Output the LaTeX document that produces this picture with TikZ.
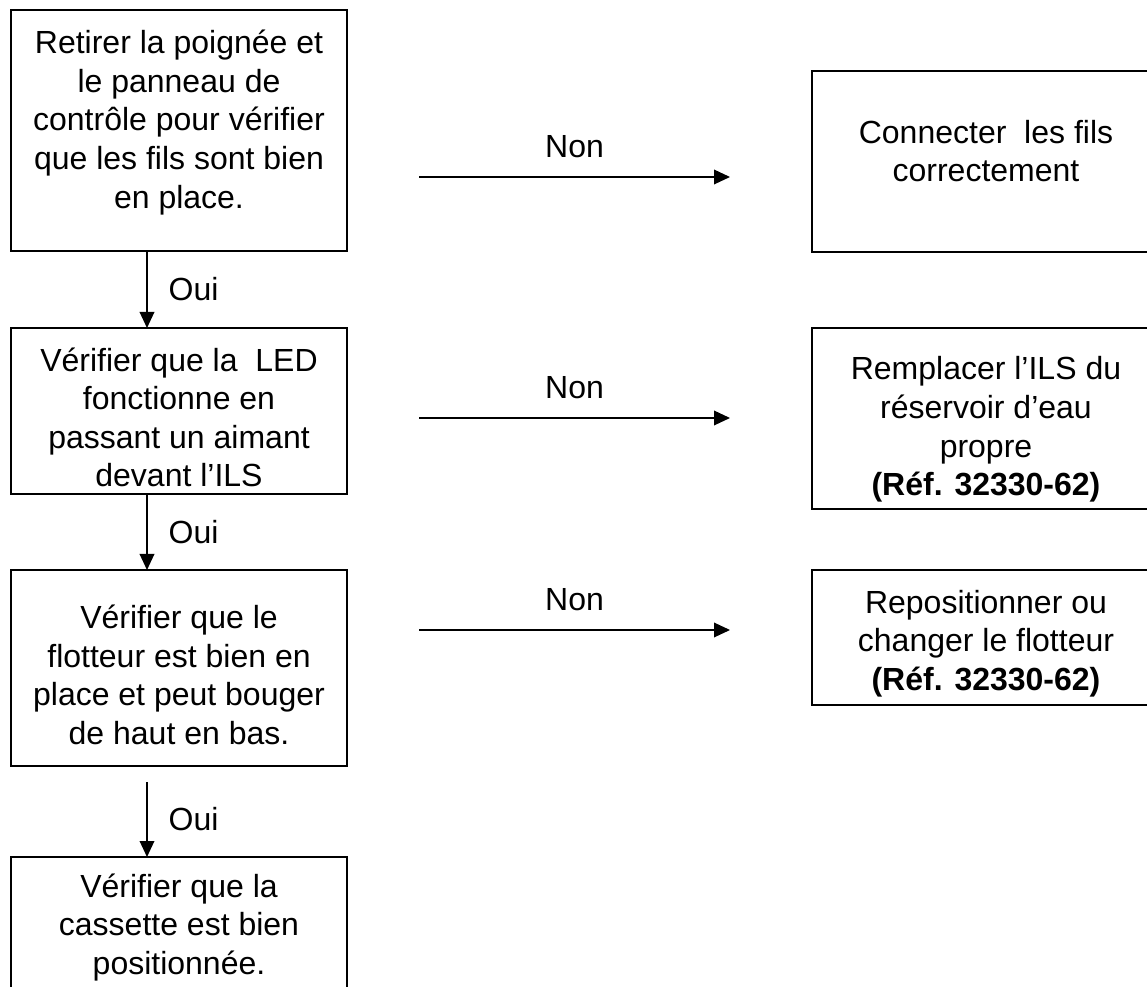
\documentclass[tikz,border=0pt]{standalone}
\usepackage{fontspec}
\setmainfont{Liberation Sans}
\usetikzlibrary{arrows.meta}
\newcommand{\pxunit}{0.75pt}
\newcommand{\boxfont}{\fontsize{24}{28.9}\selectfont}
\tikzset{
    box/.style={draw, line width=1.2pt, inner sep=0pt, outer sep=0pt},
    boxtext/.style={align=center, inner sep=0pt, font=\boxfont},
    flow/.style={line width=1pt, -{Triangle[length=12pt,width=11pt]}},
    answer/.style={inner sep=0pt, font=\boxfont},
}

\begin{document}
\begin{tikzpicture}[x=\pxunit, y=-\pxunit]

\path [use as bounding box, fill=white] (0,0) rectangle (1147,987);

% left column (checks)
\node [box, minimum width=336*\pxunit, minimum height=241*\pxunit] (b1) at (179,130.5) {};
\node [box, minimum width=336*\pxunit, minimum height=166*\pxunit] (b3) at (179,411) {};
\node [box, minimum width=336*\pxunit, minimum height=196*\pxunit] (b5) at (179,668) {};
\node [box, minimum width=336*\pxunit, minimum height=150*\pxunit] (b7) at (179,932) {};

% right column (repairs), cut by the right border
\node [box, minimum width=348*\pxunit, minimum height=181*\pxunit] (b2) at (986,161.5) {};
\node [box, minimum width=348*\pxunit, minimum height=181*\pxunit] (b4) at (986,418.5) {};
\node [box, minimum width=348*\pxunit, minimum height=135*\pxunit] (b6) at (986,637.5) {};

% box texts
\node [boxtext] (t1) at (179,122.5) {Retirer la poignée et\\le panneau de\\contrôle pour vérifier\\que les fils sont bien\\en place.};
\node [boxtext] (t3) at (179,417.5) {Vérifier que la\ \ LED\\fonctionne en\\passant un aimant\\devant l’ILS};
\node [boxtext] (t5) at (179,675) {Vérifier que le\\flotteur est bien en\\place et peut bouger\\de haut en bas.};
\node [boxtext] (t7) at (179,927.5) {Vérifier que la\\cassette est bien\\positionnée.};
\node [boxtext] (t2) at (986,151) {Connecter\ \ les fils\\correctement};
\node [boxtext] (t4) at (986,429.5) {Remplacer l’ILS du\\réservoir d’eau\\propre\\\textbf{(Réf. 32330-62)}};
\node [boxtext] (t6) at (986,643.5) {Repositionner ou\\changer le flotteur\\\textbf{(Réf. 32330-62)}};

% vertical "Oui" arrows
\coordinate (spine) at (147,0);
\coordinate (o3s) at (147,782);
\draw [flow] (b1.south -| spine) -- node [answer, right=15.75pt] (oui1) {Oui} (b3.north -| spine);
\draw [flow] (b3.south -| spine) -- node [answer, right=15.75pt] (oui2) {Oui} (b5.north -| spine);
\draw [flow] (o3s) -- node [answer, right=15.75pt] (oui3) {Oui} (b7.north -| spine);

% horizontal "Non" arrows
\coordinate (n1s) at (419,177);
\coordinate (n1e) at (730,177);
\coordinate (n2s) at (419,418);
\coordinate (n2e) at (730,418);
\coordinate (n3s) at (419,630);
\coordinate (n3e) at (730,630);
\draw [flow] (n1s) -- node [answer, above=14pt] (non1) {Non} (n1e);
\draw [flow] (n2s) -- node [answer, above=14pt] (non2) {Non} (n2e);
\draw [flow] (n3s) -- node [answer, above=14pt] (non3) {Non} (n3e);

\end{tikzpicture}
\end{document}
